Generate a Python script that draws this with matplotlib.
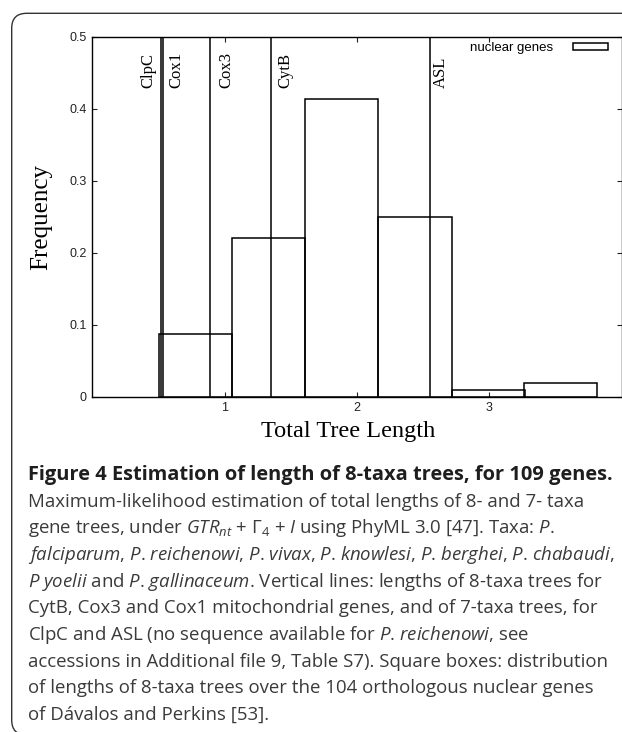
import matplotlib
matplotlib.use("Agg")
import matplotlib.pyplot as plt
from matplotlib.patches import FancyBboxPatch
from matplotlib.transforms import IdentityTransform, offset_copy
from matplotlib import font_manager as fm

# ---------------- data ----------------
bin_left = [0.500, 1.054, 1.608, 2.162, 2.716, 3.264]
bin_width = 0.554
freq = [0.0865, 0.221, 0.413, 0.250, 0.0096, 0.0192]
series_label = "nuclear genes"

genes = ["ClpC", "Cox1", "Cox3", "CytB", "ASL"]
gene_length = [0.516, 0.534, 0.892, 1.347, 2.551]

xticks = [1, 2, 3]
xtick_labels = ["1", "2", "3"]
yticks = [0, 0.1, 0.2, 0.3, 0.4, 0.5]
ytick_labels = ["0", "0.1", "0.2", "0.3", "0.4", "0.5"]

xlabel = "Total Tree Length"
ylabel = "Frequency"

caption_title = "Figure 4 Estimation of length of 8-taxa trees, for 109 genes."
caption_lines = [
    "Maximum-likelihood estimation of total lengths of 8- and 7- taxa",
    r"gene trees, under $\mathit{GTR}_{\mathit{nt}}$ + $\Gamma_{4}$ + $\mathit{I}$ using PhyML 3.0 [47]. Taxa: $\mathit{P}$.",
    r"$\mathit{falciparum}$, $\mathit{P}$. $\mathit{reichenowi}$, $\mathit{P}$. $\mathit{vivax}$, $\mathit{P}$. $\mathit{knowlesi}$, $\mathit{P}$. $\mathit{berghei}$, $\mathit{P}$. $\mathit{chabaudi}$,",
    r"$\mathit{P}$ $\mathit{yoelii}$ and $\mathit{P}$. $\mathit{gallinaceum}$. Vertical lines: lengths of 8-taxa trees for",
    "CytB, Cox3 and Cox1 mitochondrial genes, and of 7-taxa trees, for",
    r"ClpC and ASL (no sequence available for $\mathit{P}$. $\mathit{reichenowi}$, see",
    "accessions in Additional file 9, Table S7). Square boxes: distribution",
    "of lengths of 8-taxa trees over the 104 orthologous nuclear genes",
    "of Dávalos and Perkins [53].",
]

# ---------------- fonts ----------------
def has_italic(fam):
    try:
        p = fm.findfont(fm.FontProperties(family=fam, style="italic"),
                        fallback_to_default=False)
        return "italic" in p.lower() or "it." in p.lower() or "-it" in p.lower()
    except Exception:
        return False

cap_font = "Open Sans" if has_italic("Open Sans") else "Noto Sans"
plt.rcParams["mathtext.fontset"] = "custom"
plt.rcParams["mathtext.rm"] = cap_font
plt.rcParams["mathtext.it"] = cap_font + ":italic"
plt.rcParams["mathtext.bf"] = cap_font + ":bold"

serif = "Liberation Serif"
sans = "Liberation Sans"

W, H = 622, 732
fig = plt.figure(figsize=(W / 100, H / 100), dpi=100)
fig.patch.set_facecolor("white")

# outer rounded frame (display pixels)
frame = FancyBboxPatch((11.7, -3), 700, H - 13.3 + 3,
                       boxstyle="round,pad=0,rounding_size=15",
                       transform=IdentityTransform(), fill=False,
                       edgecolor="#333333", linewidth=1.0)
fig.patches.append(frame)

# ---------------- axes ----------------
L, R, T, B = 92.4, 621.5, 36.7, 396.7
ax = fig.add_axes([L / W, 1 - B / H, (R - L) / W, (B - T) / H])
ax.set_xlim(0, 4)
ax.set_ylim(0, 0.5)

ax.bar(bin_left, freq, width=bin_width, align="edge", fill=False,
       edgecolor="black", linewidth=1.1, label=series_label, zorder=3)

for g, xv in zip(genes, gene_length):
    ax.axvline(xv, color="black", linewidth=1.1, zorder=2)

label_dx = [-12, 13.5, 16, 14.7, 10.8]
for g, xv, dx in zip(genes, gene_length, label_dx):
    tr = offset_copy(ax.transData, fig=fig, x=dx, y=0, units="dots")
    ax.text(xv, 0.4287, g, transform=tr, rotation=90, ha="center",
            va="bottom", fontsize=12, family=serif, color="black")

for s in ax.spines.values():
    s.set_linewidth(1.0)
    s.set_color("black")

ax.set_xticks(xticks)
ax.set_xticklabels(xtick_labels)
ax.set_yticks(yticks)
ax.set_yticklabels(ytick_labels)
ax.tick_params(direction="in", length=3.6, width=0.8, top=True, right=True,
               labelsize=9, pad=4, colors="#222222")
for t in ax.get_xticklabels() + ax.get_yticklabels():
    t.set_family(sans)

ax.set_xlabel(xlabel, family=serif, fontsize=17.5, va="baseline")
ax.xaxis.set_label_coords((348 - L) / (R - L), -(437.5 - B) / (B - T))
ax.set_ylabel(ylabel, family=serif, fontsize=18, va="center")
ax.yaxis.set_label_coords((41.7 - L) / (R - L), (B - 217) / (B - T))

leg = ax.legend(loc="upper right", bbox_to_anchor=((608 - L) / (R - L), 0.985),
                frameon=False, markerfirst=False, borderpad=0,
                borderaxespad=0, handlelength=2.65, handleheight=0.38,
                handletextpad=1.54, prop={"family": sans, "size": 9.5})

# ---------------- caption ----------------
x0 = 28 / W
base0 = 480.0
step = 26.67
fig.text(x0, 1 - base0 / H, caption_title, family=cap_font, weight="bold",
         fontsize=14.4, color="#1e1e1e", va="baseline", ha="left")
for i, line in enumerate(caption_lines):
    yb = base0 + step * (i + 1)
    fig.text(x0, 1 - yb / H, line, family=cap_font, fontsize=13.4,
             color="#3a3a3a", va="baseline", ha="left")

fig.savefig("out.png", dpi=100, facecolor="white")
